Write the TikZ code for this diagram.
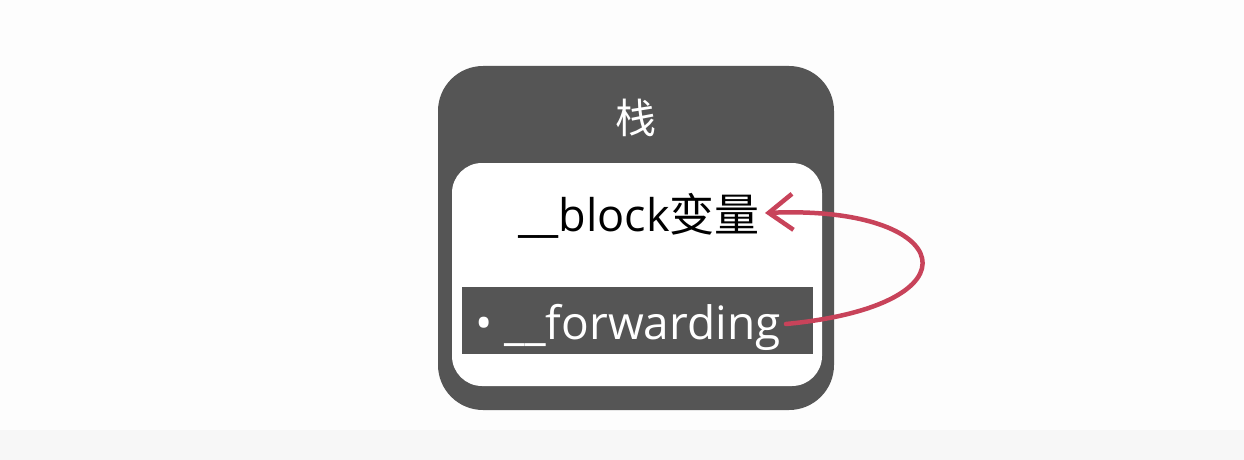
\documentclass[tikz,border=0pt]{standalone}
\usepackage{fontspec}
\setmainfont{Open Sans}
\newfontfamily\cjk{Noto Sans CJK SC}
\usetikzlibrary{arrows.meta}
\definecolor{darkbox}{HTML}{555555}
\definecolor{arrowred}{HTML}{C8435A}
\definecolor{bgpaper}{HTML}{FDFDFD}
\definecolor{bgband}{HTML}{F7F7F7}
\tikzset{
  outerbox/.style={fill=darkbox, rounded corners=45pt},
  innerbox/.style={fill=white, rounded corners=30pt},
  band/.style={fill=darkbox},
  lbl/.style={inner sep=0pt, anchor=base},
  link/.style={draw=arrowred, line width=4.5pt, line cap=round,
    -{Straight Barb[length=24pt,width=36pt,line width=4.5pt]}}
}
\begin{document}
\begin{tikzpicture}[x=1pt,y=-1pt]
\fill[bgpaper] (0,0) rectangle (1244,460);
\fill[bgband] (0,430) rectangle (1244,460);
\useasboundingbox (0,0) rectangle (1244,460);
\path[outerbox] (438,66) rectangle (834,410);
\path[innerbox] (452,163) rectangle (822,386);
\path[band] (462,287) rectangle (813,354);
\node[lbl, text=white, font=\cjk\fontsize{41}{48}\selectfont] (stack) at (636,133) {栈};
\node[lbl, text=black, font=\fontsize{45}{52}\selectfont] (blk) at (639,231) {\_\_block{\cjk 变量}};
\node[lbl, text=white, font=\fontsize{46}{52}\selectfont] (fw) at (628,339) {• \_\_forwarding};
\coordinate (fwend) at (786,324);
\coordinate (blkend) at (765,213);
\draw[link] (fwend) .. controls (985,305) and (955,205) .. (blkend);
\end{tikzpicture}
\end{document}
